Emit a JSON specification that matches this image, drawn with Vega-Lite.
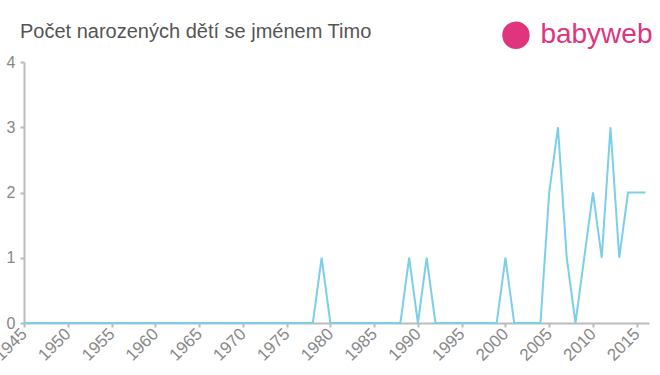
{
  "$schema": "https://vega.github.io/schema/vega-lite/v6.json",
  "width": 625,
  "height": 261,
  "autosize": {"type": "none"},
  "padding": {"left": 24, "top": 62, "right": 11, "bottom": 52},
  "background": "white",
  "title": {
    "text": "Počet narozených dětí se jménem Timo",
    "anchor": "start",
    "frame": "group",
    "baseline": "alphabetic",
    "offset": -37,
    "dx": -4,
    "fontSize": 20,
    "font": "Liberation Sans",
    "fontWeight": "normal",
    "color": "#555555"
  },
  "config": {
    "view": {"stroke": null},
    "axis": {
      "domainColor": "#bbbbbb",
      "domainWidth": 2,
      "tickColor": "#bbbbbb",
      "tickWidth": 2,
      "tickSize": 4,
      "labelColor": "#888888",
      "labelFont": "Liberation Sans",
      "labelFontSize": 15,
      "grid": false,
      "title": null
    }
  },
  "data": {
    "values": [
      {"year": 1945, "count": 0},
      {"year": 1978, "count": 0},
      {"year": 1979, "count": 1},
      {"year": 1980, "count": 0},
      {"year": 1988, "count": 0},
      {"year": 1989, "count": 1},
      {"year": 1990, "count": 0},
      {"year": 1991, "count": 1},
      {"year": 1992, "count": 0},
      {"year": 1999, "count": 0},
      {"year": 2000, "count": 1},
      {"year": 2001, "count": 0},
      {"year": 2004, "count": 0},
      {"year": 2005, "count": 2},
      {"year": 2006, "count": 3},
      {"year": 2007, "count": 1},
      {"year": 2008, "count": 0},
      {"year": 2009, "count": 1},
      {"year": 2010, "count": 2},
      {"year": 2011, "count": 1},
      {"year": 2012, "count": 3},
      {"year": 2013, "count": 1},
      {"year": 2014, "count": 2},
      {"year": 2015, "count": 2},
      {"year": 2016, "count": 2}
    ]
  },
  "layer": [
    {
      "mark": {"type": "line", "color": "#7ccfe9", "strokeWidth": 2},
      "encoding": {
        "x": {
          "field": "year",
          "type": "quantitative",
          "scale": {"domain": [1945, 2016.4], "nice": false, "zero": false},
          "axis": {
            "values": [1945, 1950, 1955, 1960, 1965, 1970, 1975, 1980, 1985, 1990, 1995, 2000, 2005, 2010, 2015],
            "format": "d",
            "labelAngle": -45,
            "labelAlign": "right",
            "labelBaseline": "middle",
            "labelFontSize": 17,
            "labelPadding": 4,
            "labelFlush": false,
            "labelOverlap": false,
            "labelBound": false
          }
        },
        "y": {
          "field": "count",
          "type": "quantitative",
          "scale": {"domain": [0, 4], "nice": false},
          "axis": {"values": [0, 1, 2, 3, 4], "format": "d", "labelPadding": 5, "labelFontSize": 16}
        }
      }
    },
    {
      "data": {"values": [{"year": 2001.2, "count": 4.41}]},
      "mark": {"type": "point", "filled": true, "color": "#e0347e", "size": 750, "opacity": 1, "clip": false},
      "encoding": {
        "x": {"field": "year", "type": "quantitative"},
        "y": {"field": "count", "type": "quantitative"}
      }
    },
    {
      "data": {"values": [{"year": 2016.8, "count": 4.41, "label": "babyweb"}]},
      "mark": {"type": "text", "color": "#e0347e", "fontSize": 28, "font": "Liberation Sans", "align": "right", "baseline": "middle", "clip": false},
      "encoding": {
        "x": {"field": "year", "type": "quantitative"},
        "y": {"field": "count", "type": "quantitative"},
        "text": {"field": "label"}
      }
    }
  ]
}
